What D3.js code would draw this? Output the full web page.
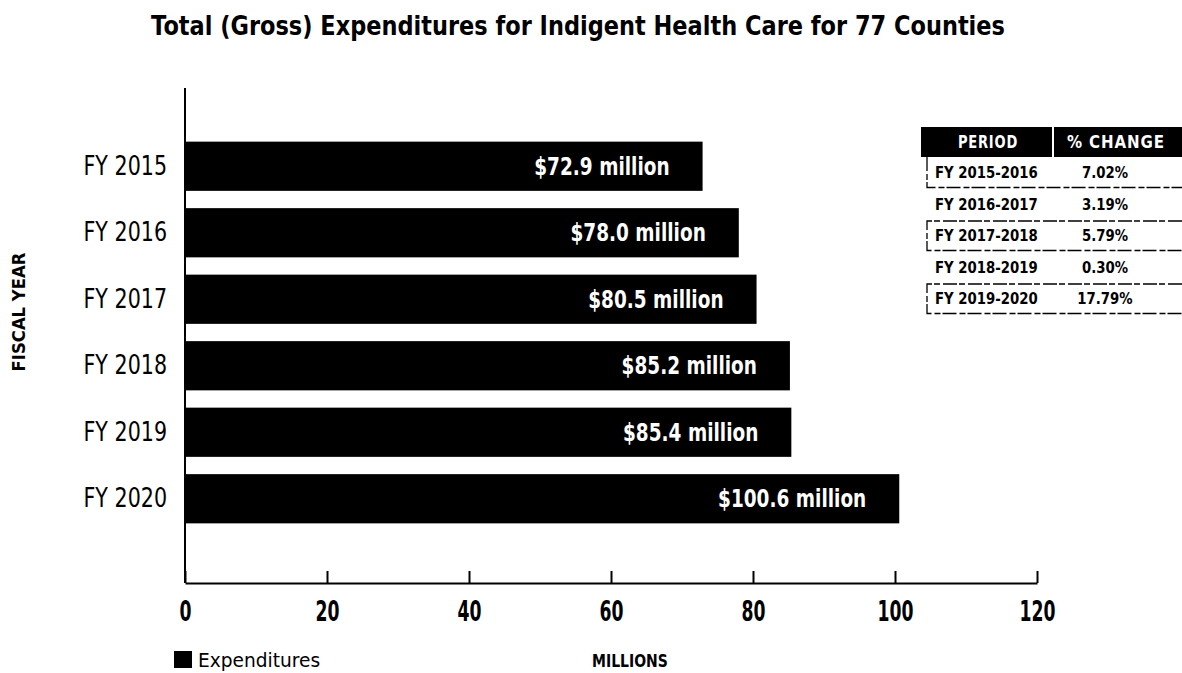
<!DOCTYPE html>
<html>
<head>
<meta charset="utf-8">
<script src="https://cdn.jsdelivr.net/npm/d3@7"></script>
<style>
  html, body { margin: 0; padding: 0; background: #fff; }
  svg { display: block; }
  text { font-family: "DejaVu Sans", "Liberation Sans", sans-serif; }
</style>
</head>
<body>
<svg id="chart" width="1182" height="673"></svg>
<script>
// Fiscal years and gross indigent health care spending (millions of dollars)
const years = ["FY 2015", "FY 2016", "FY 2017", "FY 2018", "FY 2019", "FY 2020"];
const expenditures = [72.9, 78.0, 80.5, 85.2, 85.4, 100.6];
const valueLabels = ["$72.9 million", "$78.0 million", "$80.5 million", "$85.2 million", "$85.4 million", "$100.6 million"];
const xTicks = [0, 20, 40, 60, 80, 100, 120];

// Year-over-year change table
const periods = ["FY 2015-2016", "FY 2016-2017", "FY 2017-2018", "FY 2018-2019", "FY 2019-2020"];
const pctChanges = ["7.02%", "3.19%", "5.79%", "0.30%", "17.79%"];
const tableHeaders = ["PERIOD", "% CHANGE"];

const svg = d3.select("#chart");

// Squeeze text horizontally to get a condensed typeface look
function condense(sel, k) {
  sel.each(function () {
    const w = this.getComputedTextLength();
    d3.select(this).attr("textLength", w * k).attr("lengthAdjust", "spacingAndGlyphs");
  });
}

const x = d3.scaleLinear().domain([0, 120]).range([185, 1037]);
const y = d3.scaleBand().domain(years).range([133, 532]).paddingInner(0.26).paddingOuter(0.13);
const axisY0 = 88, axisBottom = 583;

// Title
svg.append("text")
  .attr("x", 578).attr("y", 35)
  .attr("text-anchor", "middle")
  .attr("font-size", 27).attr("font-weight", "bold")
  .text("Total (Gross) Expenditures for Indigent Health Care for 77 Counties")
  .call(condense, 0.832);

// Bars
svg.append("g").selectAll("rect")
  .data(expenditures)
  .join("rect")
  .attr("x", x(0))
  .attr("y", (d, i) => y(years[i]))
  .attr("width", d => x(d) - x(0))
  .attr("height", y.bandwidth())
  .attr("fill", "#000");

// Value labels inside bars
svg.append("g").selectAll("text")
  .data(expenditures)
  .join("text")
  .attr("x", d => x(d) - 33)
  .attr("y", (d, i) => y(years[i]) + y.bandwidth() / 2)
  .attr("dy", "0.35em")
  .attr("text-anchor", "end")
  .attr("fill", "#fff")
  .attr("font-size", 24).attr("font-weight", "bold")
  .text((d, i) => valueLabels[i])
  .call(condense, 0.77);

// Y axis (category labels)
const yAxis = d3.axisLeft(y).tickSize(0).tickPadding(18);
const gy = svg.append("g").attr("transform", `translate(${x(0)},0)`).call(yAxis);
gy.select(".domain").remove();
gy.selectAll("text").attr("font-size", 27).attr("fill", "#000")
  .style("font-family", "'DejaVu Sans', sans-serif")
  .call(condense, 0.764);
svg.append("line")
  .attr("x1", x(0)).attr("x2", x(0))
  .attr("y1", axisY0).attr("y2", axisBottom)
  .attr("stroke", "#000").attr("stroke-width", 2);

// X axis with upward ticks
const xAxis = d3.axisBottom(x).tickValues(xTicks).tickSize(-12).tickPadding(0).tickSizeOuter(0);
const gx = svg.append("g").attr("transform", `translate(0,${axisBottom})`).call(xAxis);
gx.select(".domain").attr("stroke-width", 2);
gx.selectAll(".tick line").attr("stroke-width", 2);
gx.selectAll("text").attr("y", 38).attr("dy", 0).attr("font-size", 28).attr("font-weight", "bold").attr("fill", "#000")
  .style("font-family", "'DejaVu Sans', sans-serif")
  .call(condense, 0.615);

// Axis titles
svg.append("text")
  .attr("transform", "translate(25,312) rotate(-90)")
  .attr("text-anchor", "middle")
  .attr("font-size", 18).attr("font-weight", "bold")
  .text("FISCAL YEAR")
  .call(condense, 0.914);
svg.append("text")
  .attr("x", 630).attr("y", 667)
  .attr("text-anchor", "middle")
  .attr("font-size", 18).attr("font-weight", "bold")
  .text("MILLIONS")
  .call(condense, 0.777);

// Legend
svg.append("rect").attr("x", 174).attr("y", 651).attr("width", 18).attr("height", 17).attr("fill", "#000");
svg.append("text").attr("x", 198).attr("y", 667).attr("font-size", 20).text("Expenditures")
  .call(condense, 0.93);

// Change table
const tbl = svg.append("g");
const colX = [921, 1053, 1182];
const headTop = 127, headH = 30, rowH = 31.5;
tbl.append("rect").attr("x", colX[0]).attr("y", headTop).attr("width", colX[2] - colX[0]).attr("height", headH).attr("fill", "#000");
tbl.append("line").attr("x1", colX[1]).attr("x2", colX[1]).attr("y1", headTop).attr("y2", headTop + headH)
  .attr("stroke", "#fff").attr("stroke-width", 2);
tbl.selectAll("text.head")
  .data(tableHeaders)
  .join("text")
  .attr("class", "head")
  .attr("x", (d, i) => i === 0 ? 988 : 1116)
  .attr("y", headTop + headH / 2)
  .attr("dy", "0.35em")
  .attr("text-anchor", "middle")
  .attr("fill", "#fff")
  .attr("font-size", 17).attr("font-weight", "bold")
  .attr("letter-spacing", 1)
  .text(d => d)
  .attr("textLength", (d, i) => i === 0 ? 60 : 98)
  .attr("lengthAdjust", "spacingAndGlyphs");

const rowTop = i => headTop + headH + i * rowH;
// Broken outlines around alternate rows
tbl.selectAll("path.box")
  .data(periods.filter((d, i) => i % 2 === 0))
  .join("path")
  .attr("class", "box")
  .attr("d", (d, k) => {
    const t = rowTop(k * 2) + (k === 0 ? 0 : 1), b = rowTop(k * 2) + rowH - 1;
    return k === 0
      ? `M${colX[0] + 6},${t} V${b} H${colX[2]}`
      : `M${colX[2]},${t} H${colX[0] + 6} V${b} H${colX[2]}`;
  })
  .attr("fill", "none").attr("stroke", "#000").attr("stroke-width", 1.3)
  .attr("stroke-dasharray", "14 3 6 2");

tbl.selectAll("text.period")
  .data(periods)
  .join("text")
  .attr("class", "period")
  .attr("x", 935)
  .attr("y", (d, i) => rowTop(i) + rowH / 2)
  .attr("dy", "0.35em")
  .attr("font-size", 16).attr("font-weight", "bold")
  .text(d => d)
  .call(condense, 0.83);
tbl.selectAll("text.pct")
  .data(pctChanges)
  .join("text")
  .attr("class", "pct")
  .attr("x", 1105)
  .attr("y", (d, i) => rowTop(i) + rowH / 2)
  .attr("dy", "0.35em")
  .attr("text-anchor", "middle")
  .attr("font-size", 16).attr("font-weight", "bold")
  .text(d => d)
  .call(condense, 0.83);
</script>
</body>
</html>
